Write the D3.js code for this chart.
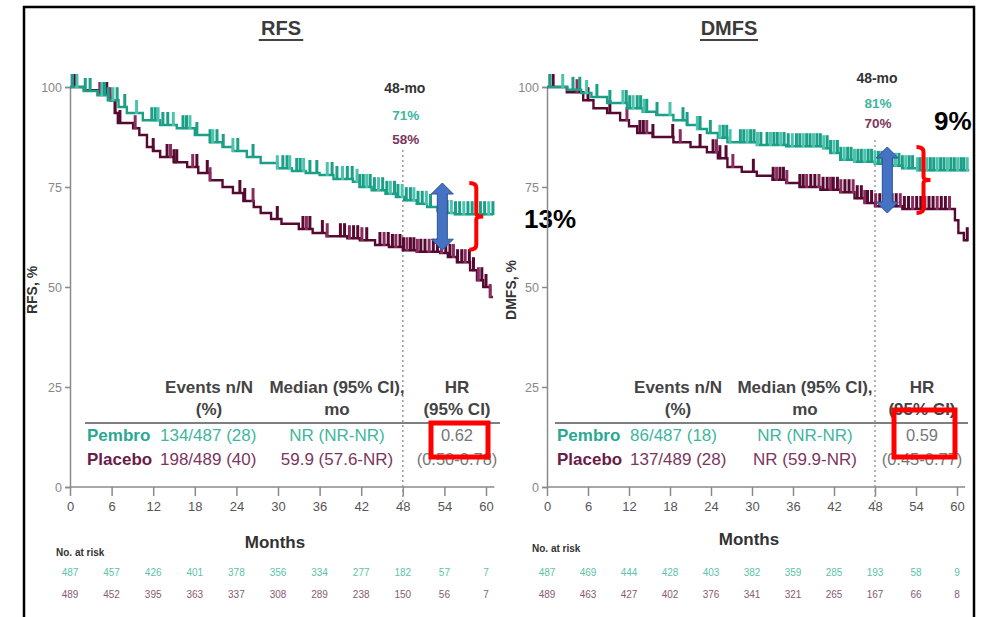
<!DOCTYPE html>
<html>
<head>
<meta charset="utf-8">
<script src="https://cdn.jsdelivr.net/npm/d3@7"></script>
<style>
body{margin:0;background:#fff}
svg{display:block;font-family:"Liberation Sans",Arial,sans-serif}
</style>
</head>
<body>
<div id="chart"></div>
<script>
// ---- data ----
var months = [0,6,12,18,24,30,36,42,48,54,60];
var yTicks = [0,25,50,75,100];

// step points [month, % event-free]
var rfsPembro = [[0,100],[2,99],[4,98],[5.5,96.7],[7,95],[8.2,93.5],[10.5,91.7],[13,90.5],[15.4,89.7],[18,88],[20.2,86.2],[22,85],[23.5,84],[25.5,82.5],[27.5,81],[29.9,79.7],[32,79],[34,78.5],[36,78],[38,77],[40.8,76.3],[41.8,75],[43.5,74.2],[45.5,73.3],[47,72.5],[48.2,71.7],[50,70.8],[51.5,70],[53,69],[54.4,68.5],[55.5,68.2]];
var rfsPlacebo = [[0,100],[2,99.2],[4,98],[5.8,96.7],[6.5,93.5],[6.9,91],[9.1,89.7],[10,88],[11.1,85],[12,84],[13,82.5],[15,81.2],[16.9,80],[18.5,78.5],[20.2,76.7],[22,75],[23.5,73.5],[25,71.5],[26.5,70],[27.5,68.5],[29,67],[30.5,65.8],[33,64.5],[35,63.5],[37,62.7],[40,62.2],[41.8,61.7],[44,60.5],[46,60],[48,59.2],[50,58.8],[53.4,58.5],[54.5,57.5],[55.8,56.2],[57.7,54.2],[58.7,51.7],[59.6,50],[60.6,47.5]];
var dmfsPembro = [[0,100],[3,99.3],[5,98.5],[6.5,97.5],[8.8,96],[11.7,94.7],[14,93.8],[16,93],[18.5,91.7],[20.5,90.5],[22,89.5],[23.4,88.5],[25,87.3],[26.4,86.2],[30.7,85.5],[35,85.2],[40.4,84.7],[41.5,83.5],[42.9,81.8],[45,81.3],[48,80.8],[50,80.3],[52,79.7],[54.2,79.2]];
var dmfsPlacebo = [[0,100],[2.9,98.7],[5.3,96.7],[6.8,94.7],[8.8,93.5],[10.7,91.7],[12,90.2],[13.2,88.5],[15.5,87.5],[18.5,86.2],[21,85],[23.4,83.7],[25,82.2],[26.4,80],[28.5,78.8],[30.7,77.8],[33,76.8],[35,76],[37,75],[40,74.3],[42.9,73.7],[45,72.2],[46.5,71],[48,70.2],[52,69.5],[59.7,66.7],[60.2,63.5],[61,61.7]];

// censoring times (months)
var rfsPembroCens = [0.3,1,2.2,2.9,4.6,5,5.5,6.2,6.8,7.9,9.6,11.8,12.3,12.7,13.4,14.1,14.9,16.3,16.8,17.3,18.3,20.2,20.6,21.2,22.1,23.5,24.2,26.4,29.9,30.7,31.3,31.7,32.7,33.2,33.7,34.6,35.6,37.1,37.8,38.5,39.3,40,40.7,41.4,41.8,42.3,42.8,43.3,43.9,44.5,45.1,45.7,46.2,46.8,47.3,47.9,48.5,49.1,49.6,50.2,50.8,51.4,52,54.4,55,55.6,56.2,56.8,57.4,58,58.6,59.2,59.8,60.4,61];
var rfsPlaceboCens = [0.7,4.3,4.8,5.3,5.8,6.5,7.2,9.4,12,14,14.5,15,15.4,17.7,18.3,19.8,20.2,24.5,25.2,26.4,29.9,33.6,34.1,34.6,36.4,37.1,39,39.6,40.3,40.9,41.5,42.1,42.8,44.7,45.3,45.9,46.5,47,47.6,48.1,48.6,49.1,49.6,50.1,50.6,51.2,51.8,52.4,53,53.6,54.2,54.8,55.3,55.9,56.5,57,57.6,58.2,58.9,59.4,60,60.6];
var dmfsPembroCens = [0.4,2.3,3.8,4.8,5.8,7.3,9.2,11.1,11.6,12.1,12.6,13.2,13.7,14.2,14.6,16.1,18,19.9,20.5,22,22.4,23.9,25.3,25.8,26.3,26.8,28.3,28.8,29.3,29.8,30.3,30.8,31.3,32.2,32.7,33.2,33.7,34.2,34.7,35.3,35.9,36.5,37,37.5,38,38.5,39,39.5,40,40.5,41,41.5,42,42.5,43,43.5,44,44.5,45,45.5,46,46.5,47,47.5,48,48.5,49,49.5,50,50.5,51,51.5,52,52.5,53,53.5,54.2,54.6,55.1,55.6,56.1,56.6,57.1,57.6,58.1,58.6,59.1,59.6,60.1,60.6,61,61.5];
var dmfsPlaceboCens = [0.9,4.4,6,9.2,11.7,13.6,14.1,14.6,15.5,18.4,19.5,22.4,24.3,24.8,25.3,26.2,27.2,30.2,33.1,33.6,34.1,34.6,35.1,37,37.5,38,38.6,39.2,39.8,40.4,41,41.5,41.9,42.5,43,43.6,44.2,44.8,45.4,46,46.5,46.9,47.5,48.1,48.7,49.3,49.9,50.5,51.1,51.7,52.3,52.9,53.5,54.1,54.7,55.3,55.9,56.5,57.1,57.7,58.3,58.9,61.5];

var rfsRiskPembro = [487,457,426,401,378,356,334,277,182,57,7];
var rfsRiskPlacebo = [489,452,395,363,337,308,289,238,150,56,7];
var dmfsRiskPembro = [487,469,444,428,403,382,359,285,193,58,9];
var dmfsRiskPlacebo = [489,463,427,402,376,341,321,265,167,66,8];

var rfsRows = [["Pembro","134/487 (28)","NR (NR-NR)","0.62"],["Placebo","198/489 (40)","59.9 (57.6-NR)","(0.50-0.78)"]];
var dmfsRows = [["Pembro","86/487 (18)","NR (NR-NR)","0.59"],["Placebo","137/489 (28)","NR (59.9-NR)","(0.45-0.77)"]];

var rfsLandmark = [71,58];
var dmfsLandmark = [81,70];

// ---- drawing ----
var W=992, H=617;
var cPem="#1b9f87", cPla="#560a31";
var tPem="#3fb59f", tPla="#7c3560";

var svg = d3.select("#chart").append("svg").attr("width",W).attr("height",H);

// frame
svg.append("path").attr("d","M24,617 L24,7 L974,7 L974,617")
  .attr("fill","none").attr("stroke","#000").attr("stroke-width",2.5);

function survAt(steps,t){
  var s=steps[0][1];
  for(var i=0;i<steps.length;i++){ if(steps[i][0]<=t) s=steps[i][1]; }
  return s;
}

function panel(p){
  var x=d3.scaleLinear().domain([0,60]).range([p.x0,p.x1]);
  var y=d3.scaleLinear().domain([0,100]).range([487,87]);
  var g=svg.append("g");

  // title
  g.append("text").attr("x",p.tx).attr("y",35).attr("text-anchor","middle")
    .style("font-size","20px").style("font-weight","bold").style("fill","#3a3a3a").text(p.title);
  var tw=p.title.length*13.5;
  g.append("line").attr("x1",p.tx-tw/2-2).attr("x2",p.tx+tw/2+2).attr("y1",40).attr("y2",40)
    .attr("stroke","#444").attr("stroke-width",2);

  // y axis
  var ya=g.append("g").attr("transform","translate("+p.x0+",0)")
    .call(d3.axisLeft(y).tickValues(yTicks).tickSize(5).tickPadding(3));
  ya.select(".domain").attr("stroke","#8a8a8a").attr("stroke-width",1.5);
  ya.selectAll(".tick line").attr("stroke","#8a8a8a").attr("stroke-width",1.5);
  ya.selectAll("text").style("font-size","12.5px").style("fill","#888").style("font-family","Liberation Sans,Arial");

  g.append("text").attr("transform","translate("+p.ylx+",290) rotate(-90)")
    .attr("text-anchor","middle").style("font-size","14px").style("font-weight","bold").style("fill","#333")
    .text(p.ylab);

  // x axis
  var xa=g.append("g").attr("transform","translate(0,487)")
    .call(d3.axisBottom(x).tickValues(months).tickSize(9).tickPadding(6).tickSizeOuter(0));
  xa.select(".domain").attr("stroke","#8a8a8a").attr("stroke-width",1.5).attr("d","M"+p.x0+",0H"+x(61.2));
  xa.selectAll(".tick line").attr("stroke","#8a8a8a").attr("stroke-width",1.5);
  xa.selectAll("text").style("font-size","13px").style("fill","#555").style("font-family","Liberation Sans,Arial");

  g.append("text").attr("x",p.mx).attr("y",p.my).attr("text-anchor","middle")
    .style("font-size","17px").style("font-weight","bold").style("fill","#333").text("Months");

  // 48-month reference
  g.append("line").attr("x1",x(48)).attr("x2",x(48)).attr("y1",p.dashTop).attr("y2",503)
    .attr("stroke","#9a9a9a").attr("stroke-width",1.5).attr("stroke-dasharray","2,3");
  g.append("text").attr("x",x(48)+2).attr("y",p.lmY[0]).attr("text-anchor","middle")
    .style("font-size","14px").style("font-weight","bold").style("fill","#333").text("48-mo");
  g.append("text").attr("x",x(48)+3).attr("y",p.lmY[1]).attr("text-anchor","middle")
    .style("font-size","13.5px").style("font-weight","bold").style("fill",tPem).text(p.landmark[0]+"%");
  g.append("text").attr("x",x(48)+3).attr("y",p.lmY[2]).attr("text-anchor","middle")
    .style("font-size","13.5px").style("font-weight","bold").style("fill",tPla).text(p.landmark[1]+"%");

  // curves
  var line=d3.line().x(function(d){return x(d[0]);}).y(function(d){return y(d[1]);}).curve(d3.curveStepAfter);
  [[p.pla,p.plaC,p.plaEnd,cPla,"#8a2c5e"],[p.pem,p.pemC,p.pemEnd,cPem,"#4cc3ad"]].forEach(function(s){
    var pts=s[0].concat([[s[2],s[0][s[0].length-1][1]]]);
    g.append("path").datum(pts).attr("d",line).attr("fill","none").attr("stroke",s[3]).attr("stroke-width",2.4);
    g.selectAll(null).data(s[1]).enter().append("line")
      .attr("x1",function(d){return x(d);}).attr("x2",function(d){return x(d);})
      .attr("y1",function(d){return y(survAt(s[0],d))+1;})
      .attr("y2",function(d){return y(survAt(s[0],d))-13;})
      .attr("stroke",function(d,i){return i%3==1?s[4]:s[3];}).attr("stroke-width",3);
  });

  // summary table
  var cols=p.cols;
  var hdr=[[cols[1],"Events n/N","(%)"],[cols[2],"Median (95% CI),","mo"],[cols[3],"HR","(95% CI)"]];
  hdr.forEach(function(h){
    g.append("text").attr("x",h[0]).attr("y",393).attr("text-anchor","middle")
      .style("font-size","17px").style("font-weight","bold").style("fill","#444").text(h[1]);
    g.append("text").attr("x",h[0]).attr("y",415).attr("text-anchor","middle")
      .style("font-size","17px").style("font-weight","bold").style("fill","#444").text(h[2]);
  });
  g.append("line").attr("x1",cols[0]-2).attr("x2",p.lineEnd).attr("y1",423).attr("y2",423)
    .attr("stroke","#555").attr("stroke-width",1.5);

  p.rows.forEach(function(r,i){
    var yy=441+i*24;
    g.append("text").attr("x",cols[0]).attr("y",yy).style("font-size","17px").style("font-weight","bold")
      .style("fill",i==0?"#2aa891":"#6a1c48").text(r[0]);
    g.append("text").attr("x",cols[4]).attr("y",yy).style("font-size","17px")
      .style("fill",i==0?tPem:tPla).text(r[1]);
    g.append("text").attr("x",cols[2]).attr("y",yy).attr("text-anchor","middle").style("font-size","17px")
      .style("fill",i==0?tPem:tPla).text(r[2]);
    g.append("text").attr("x",cols[3]).attr("y",yy).attr("text-anchor","middle").style("font-size","16.5px")
      .style("fill","#777").text(r[3]);
  });

  // number at risk
  g.append("text").attr("x",p.nx).attr("y",p.ny).style("font-size","10px").style("font-weight","bold")
    .style("fill","#333").text("No. at risk");
  g.selectAll(null).data(p.riskPem).enter().append("text")
    .attr("x",function(d,i){return x(months[i]);}).attr("y",576).attr("text-anchor","middle")
    .style("font-size","10px").style("fill","#5cc3a9").text(function(d){return d;});
  g.selectAll(null).data(p.riskPla).enter().append("text")
    .attr("x",function(d,i){return x(months[i]);}).attr("y",598).attr("text-anchor","middle")
    .style("font-size","10px").style("fill","#8a5a74").text(function(d){return d;});

  // red box around HR
  g.append("rect").attr("x",p.box[0]).attr("y",p.box[1]).attr("width",p.box[2]).attr("height",p.box[3])
    .attr("fill","none").attr("stroke","#ff0000").attr("stroke-width",5);

  // gap annotation: double arrow + brace
  var ax=x(p.arrow[0]), a1=y(p.arrow[1]), a2=y(p.arrow[2]), hw=11, hh=11, sw=5;
  g.append("path").attr("d","M"+ax+","+a1+"L"+(ax+hw)+","+(a1+hh)+"L"+(ax+sw)+","+(a1+hh)+"L"+(ax+sw)+","+(a2-hh)
      +"L"+(ax+hw)+","+(a2-hh)+"L"+ax+","+a2+"L"+(ax-hw)+","+(a2-hh)+"L"+(ax-sw)+","+(a2-hh)+"L"+(ax-sw)+","+(a1+hh)
      +"L"+(ax-hw)+","+(a1+hh)+"Z")
    .attr("fill","#4472c4").attr("stroke","#2f528f").attr("stroke-width",1);
  var bx=x(p.brace[0]), b1=y(p.brace[1]), b2=y(p.brace[2]), bm=(b1+b2)/2;
  g.append("path").attr("d","M"+(bx-7)+","+b1+"Q"+bx+","+b1+" "+bx+","+(b1+5)+"L"+bx+","+(bm-3)
      +"Q"+bx+","+bm+" "+(bx+7)+","+bm+"Q"+bx+","+bm+" "+bx+","+(bm+3)+"L"+bx+","+(b2-5)+"Q"+bx+","+b2+" "+(bx-7)+","+b2)
    .attr("fill","none").attr("stroke","#ff0000").attr("stroke-width",4);
  g.append("text").attr("x",p.gapPos[0]).attr("y",p.gapPos[1])
    .style("font-size","26px").style("font-weight","bold").style("fill","#000").text(p.gap);
}

panel({title:"RFS",tx:281,ylab:"RFS, %",ylx:37,x0:70,x1:486,mx:275,my:548,dashTop:150,
  lmY:[93,120,144],landmark:rfsLandmark,
  pem:rfsPembro,pemC:rfsPembroCens,pemEnd:61,pla:rfsPlacebo,plaC:rfsPlaceboCens,plaEnd:61,
  cols:[87,209,337,457,160],lineEnd:500,rows:rfsRows,nx:56,ny:556,
  riskPem:rfsRiskPembro,riskPla:rfsRiskPlacebo,box:[431,423,57,34],
  arrow:[53.7,76,59.2],brace:[58.6,76,59.3],gap:"13%",gapPos:[524,228]});

panel({title:"DMFS",tx:729,ylab:"DMFS, %",ylx:516,x0:547,x1:957,mx:749,my:545,dashTop:140,
  lmY:[83,108,128],landmark:dmfsLandmark,
  pem:dmfsPembro,pemC:dmfsPembroCens,pemEnd:61.8,pla:dmfsPlacebo,plaC:dmfsPlaceboCens,plaEnd:61.6,
  cols:[557,678,805,922,630],lineEnd:968,rows:dmfsRows,nx:532,ny:552,
  riskPem:dmfsRiskPembro,riskPla:dmfsRiskPlacebo,box:[894,410,61,47],
  arrow:[49.8,85,68.5],brace:[55.1,85,68.5],gap:"9%",gapPos:[934,130]});
</script>
</body>
</html>
